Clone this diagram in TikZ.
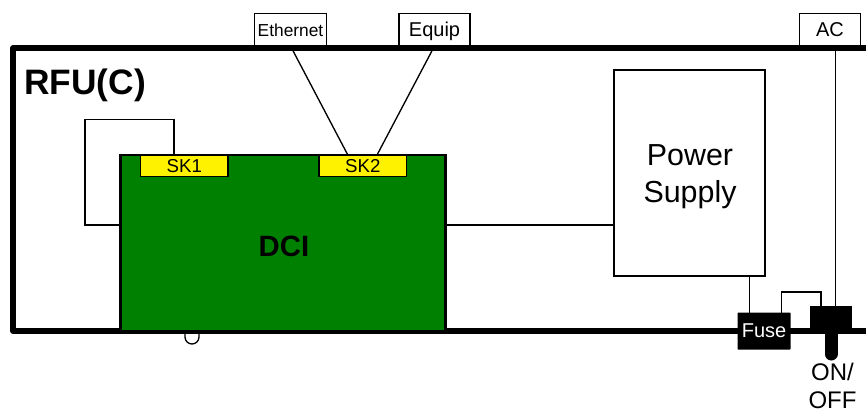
\documentclass[tikz,border=0pt]{standalone}
\usepackage{fontspec}
\setmainfont{Liberation Sans}
\usetikzlibrary{positioning, calc}
\newcommand{\fs}[1]{\fontsize{#1}{#1}\selectfont}
\tikzset{
  wire/.style={line width=1pt},
  labelbox/.style={draw, line width=1pt, fill=white, outer sep=0pt, inner sep=0pt, minimum height=24.4pt, text depth=0pt},
  sockbox/.style={draw, line width=1pt, fill=yellow, outer sep=0pt, inner sep=0pt, minimum width=65.6pt, minimum height=15.75pt, font=\fs{14}},
}
\begin{document}
\begin{tikzpicture}[x=0.75pt, y=-0.75pt]
  \useasboundingbox (0,0) rectangle (866,413);
  % ============ small notch under the case ============
  \draw[wire, fill=white] (185,331) -- (185,337) arc[start angle=180, end angle=0, radius=7] -- (199,331);
  % ============ external labels ============
  \node[labelbox, minimum width=54pt, font=\fs{13}] (ethernet) at (290.5,29.75) {Ethernet};
  \node[labelbox, minimum width=53.25pt, font=\fs{15}] (equip) at (434.5,29.75) {Equip};
  \node[labelbox, minimum width=45.75pt, font=\fs{15}] (ac) at (830,29.75) {AC};
  % ============ case ============
  \draw[line width=3.8pt, line join=round] (866,48) -- (13,48) -- (13,331) -- (866,331);
  \node[font=\fs{26.5}\bfseries, anchor=west, inner sep=0pt] (rfu) at (24,85) {RFU(C)};
  % ============ DCI board ============
  \node[draw, line width=2.2pt, fill={rgb,255:red,0;green,128;blue,0}, outer sep=0pt, inner sep=0pt,
    minimum width=244pt, minimum height=132pt] (dci) at (283.25,243) {};
  \node[font=\fs{22}\bfseries, inner sep=0pt] (dcilabel) at (284,246) {DCI};
  \node[sockbox] (skone) at (184.25,166) {SK1};
  \node[sockbox] (sktwo) at (362.75,166) {SK2};
  % ============ power supply ============
  \node[draw, line width=1.5pt, fill=white, outer sep=0pt, inner sep=0pt,
    minimum width=112.9pt, minimum height=154.5pt] (psu) at (689.25,173) {};
  \node[align=center, inner sep=0pt, font=\fs{22.8}] (psulabel) at (690,177) {Power\\[5pt]Supply};
  % ============ fuse and switch ============
  \node[fill=black, text=white, rounded corners=0.5pt, outer sep=0pt, inner sep=0pt,
    minimum width=39.75pt, minimum height=27.75pt, font=\fs{15}] (fuse) at (764,331) {Fuse};
  \node[fill=black, outer sep=0pt, inner sep=0pt, minimum width=31.5pt, minimum height=19.5pt] (switch) at (831,319) {};
  \draw[line width=9.75pt, line cap=round] (switch.south) -- ++(0,22) coordinate (toggle);
  \node[align=center, inner sep=0pt, font=\fs{18}] (onoff) at (832.5,386) {ON/\\[3pt]OFF};
  % ============ wiring ============
  \coordinate (loopa) at (85,119.5);
  \coordinate (loopb) at (781.5,292);
  \coordinate (loopc) at (85,225);
  \coordinate (fusetap) at (749.5,276);
  \coordinate (acdrop) at (835.5,48);
  \draw[wire] ([xshift=-7.6pt]skone.north) |- (loopa) |- (dci.west |- loopc);
  \draw[wire] (ethernet.south) -- ([xshift=-11pt]sktwo.north);
  \draw[wire] (equip.south) -- ([xshift=10.5pt]sktwo.north);
  \draw[wire] (dci.east |- loopc) -- (psu.west |- loopc);
  \draw[wire] (fusetap) -- (fusetap |- fuse.north);
  \draw[wire] ([xshift=13pt]fuse.north) |- (loopb) -| ([xshift=-7.5pt]switch.north);
  \draw[wire] (acdrop) -- (acdrop |- switch.north);
\end{tikzpicture}
\end{document}
